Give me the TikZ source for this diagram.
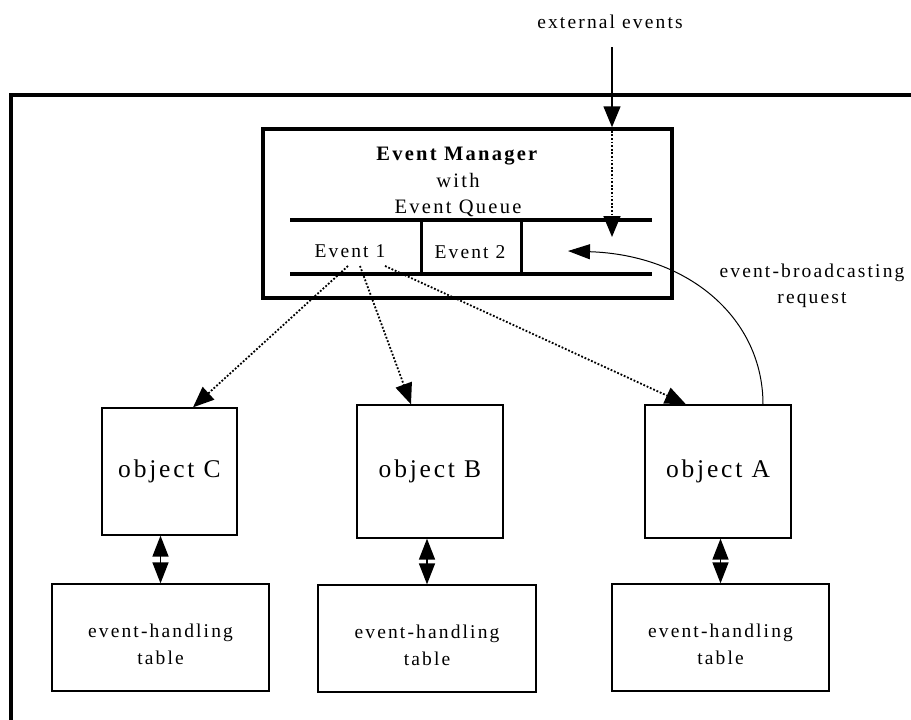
\documentclass[tikz,border=0pt]{standalone}
\usepackage{fontspec}
\setmainfont{Liberation Serif}
\newfontfamily\spaced[LetterSpace=11]{Liberation Serif}
\usetikzlibrary{arrows.meta,calc}

\begin{document}
\begin{tikzpicture}[x=1pt,y=-1pt,
  >={Triangle[length=21pt,width=17pt]},
  txt/.style={inner sep=0pt, align=center, font=\spaced\fontsize{19.5}{26}\selectfont},
  objbox/.style={draw, line width=1.3pt, minimum width=146pt, minimum height=133pt,
                 inner sep=0pt, font=\spaced\fontsize{25.5}{30}\selectfont},
  tblbox/.style={draw, line width=1.3pt, minimum width=217pt, minimum height=107pt, inner sep=0pt},
  tbltxt/.style={txt, font=\spaced\fontsize{19.5}{27}\selectfont},
  heavy/.style={line width=3.5pt},
  divider/.style={line width=3pt},
  dotarrow/.style={->, line width=1.8pt, dash pattern=on 1.8pt off 1.8pt},
  plainarrow/.style={->, line width=1.5pt},
  reqarrow/.style={-{Triangle[length=22pt,width=15pt]}, line width=1pt},
  linkarrow/.style={{Triangle[length=21pt,width=16pt]}-{Triangle[length=21pt,width=16pt]}, line width=1.5pt}
]
\useasboundingbox (0,0) rectangle (911,720);

% enclosing system frame (runs off the page to the right and bottom)
\draw[line width=4pt, line join=miter] (10.5,740) -- (10.5,95) -- (930,95);

% event manager with its queue
\node[draw, heavy, minimum width=409pt, minimum height=169pt, inner sep=0pt] (em) at (467.5,213.5) {};
\node[txt, font=\spaced\fontsize{20.5}{26.5}\selectfont] (emtitle) at (458,182)
  {\textbf{Event Manager}\\with\\Event Queue};
\coordinate (qTL) at (290,220);
\coordinate (qTR) at (652,220);
\coordinate (qBL) at (290,274);
\coordinate (qBR) at (652,274);
\draw[heavy] (qTL) -- (qTR);
\draw[heavy] (qBL) -- (qBR);
\draw[divider] (qTL -| 421,0) -- (qBL -| 421,0);
\draw[divider] (qTL -| 521,0) -- (qBL -| 521,0);
\node[txt] (ev1) at (350,251) {Event 1};
\node[txt] (ev2) at (470,252) {Event 2};
\coordinate (qreq) at (568,251);

% objects
\node[objbox, minimum width=135pt, minimum height=127pt] (objC) at (169.5,471.5) {object C};
\node[objbox] (objB) at (430,471.5) {object B};
\node[objbox] (objA) at (718,471.5) {object A};

% event-handling tables
\node[tblbox] (tblC) at (160.5,637.5) {};
\node[tblbox, minimum width=218pt] (tblB) at (427,638.5) {};
\node[tblbox] (tblA) at (720.5,637.5) {};
\node[tbltxt] (tblCtxt) at ([yshift=-7pt]tblC.center) {event-handling\\table};
\node[tbltxt] (tblBtxt) at ([yshift=-7pt]tblB.center) {event-handling\\table};
\node[tbltxt] (tblAtxt) at ([yshift=-7pt]tblA.center) {event-handling\\table};

% object <-> table links
\draw[linkarrow] (tblC.north) -- (tblC.north |- objC.south);
\draw[linkarrow] (tblB.north) -- (tblB.north |- objB.south);
\draw[linkarrow] (tblA.north) -- (tblA.north |- objA.south);

% external events entering the queue
\node[txt] (ext) at (610,21.5) {external events};
\coordinate (extfoot) at ([shift={(2,25.5)}]ext.center);
\coordinate (qin) at ($(extfoot |- qTR)+(0,17)$);
\draw[plainarrow] (extfoot) -- (extfoot |- em.north);
\draw[dotarrow] (extfoot |- em.north) -- (qin);

% broadcasting of Event 1 to the objects
\coordinate (fromC) at ([shift={(-2,15)}]ev1.center);
\coordinate (fromB) at ([shift={(10,15)}]ev1.center);
\coordinate (fromA) at ([shift={(35,15)}]ev1.center);
\draw[dotarrow] (fromC) -- ([xshift=23.5pt]objC.north);
\draw[dotarrow] (fromB) -- ([xshift=-19pt]objB.north);
\draw[dotarrow] (fromA) -- ([xshift=-32pt]objA.north);

% broadcasting request from object A back to the queue
\draw[reqarrow] ([xshift=45pt]objA.north) .. controls +(0,-85) and +(122,4) .. (qreq);
\node[txt] (reqlabel) at (812,285.5) {event-broadcasting\\request};
\end{tikzpicture}
\end{document}
